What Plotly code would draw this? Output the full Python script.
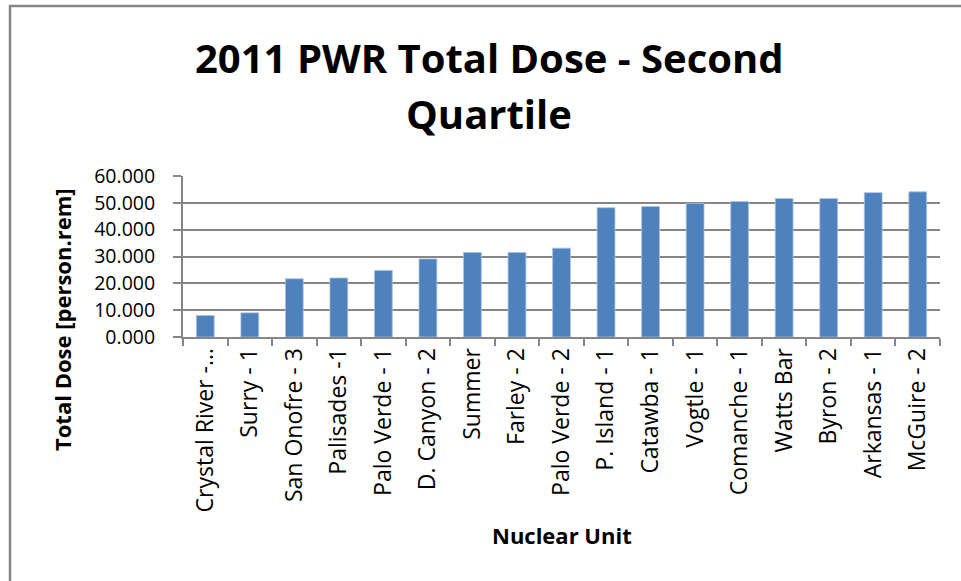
import plotly.graph_objects as go

units = ["Crystal River -…", "Surry - 1", "San Onofre - 3", "Palisades -1", "Palo Verde - 1",
         "D. Canyon - 2", "Summer", "Farley - 2", "Palo Verde - 2", "P. Island - 1",
         "Catawba - 1", "Vogtle - 1", "Comanche - 1", "Watts Bar", "Byron - 2",
         "Arkansas - 1", "McGuire - 2"]
dose = [8.0, 9.0, 21.7, 22.0, 24.8, 29.1, 31.5, 31.5, 33.1, 48.2,
        48.6, 49.8, 50.5, 51.6, 51.6, 53.8, 54.1]
y_ticks = [0, 10, 20, 30, 40, 50, 60]
y_tick_text = [f"{v:.3f}" for v in y_ticks]

W, H = 961, 581
L, R, T, B = 183, 21, 176, 244
pw = W - L - R
ph = H - T - B

def px(x):
    return (x - L) / pw

def py(y):
    return (H - B - y) / ph

FONT = "Open Sans"
GRAY = "#868686"

fig = go.Figure(go.Bar(
    x=units, y=dose,
    marker=dict(color="#4F81BD", line=dict(color="#A9C1E0", width=0.8)),
))

fig.update_layout(
    width=W, height=H,
    margin=dict(l=L, r=R, t=T, b=B),
    paper_bgcolor="white", plot_bgcolor="white",
    showlegend=False,
    bargap=0.6,
    font=dict(family=FONT, color="black", size=22),
    xaxis=dict(
        type="category", showline=True, linecolor=GRAY, linewidth=2,
        ticks="outside", tickson="boundaries", ticklen=7, tickcolor=GRAY, tickwidth=2,
        tickangle=-90, tickfont=dict(family=FONT, size=23, color="black"),
        showgrid=False,
    ),
    yaxis=dict(
        range=[0, 60], tickvals=y_ticks, ticktext=y_tick_text,
        showline=True, linecolor=GRAY, linewidth=2,
        ticks="outside", ticklen=8, tickcolor=GRAY, tickwidth=2,
        gridcolor=GRAY, gridwidth=1.6, zeroline=False,
        tickfont=dict(family=FONT, size=19.5, color="black"),
        ticklabelstandoff=14,
    ),
    annotations=[
        dict(text="<b>2011 PWR Total Dose - Second</b>", xref="paper", yref="paper",
             x=px(489), y=py(57), xanchor="center", yanchor="middle", showarrow=False,
             font=dict(family=FONT, size=40, color="black")),
        dict(text="<b>Quartile</b>", xref="paper", yref="paper",
             x=px(489), y=py(113), xanchor="center", yanchor="middle", showarrow=False,
             font=dict(family=FONT, size=40, color="black")),
        dict(text="<b>Total Dose [person.rem]</b>", xref="paper", yref="paper",
             x=px(62), y=py(319), xanchor="center", yanchor="middle", showarrow=False,
             textangle=-90, font=dict(family=FONT, size=22, color="black")),
        dict(text="<b>Nuclear Unit</b>", xref="paper", yref="paper",
             x=px(562), y=py(535), xanchor="center", yanchor="middle", showarrow=False,
             font=dict(family=FONT, size=22, color="black")),
    ],
    shapes=[
        dict(type="rect", xref="paper", yref="paper",
             x0=px(10), y0=py(620), x1=px(1000), y1=py(6),
             line=dict(color=GRAY, width=2.5), fillcolor="rgba(0,0,0,0)", layer="below"),
    ],
)

fig.write_html("out.html", config={"displayModeBar": False},
               post_script="document.body.style.margin='0px';")
